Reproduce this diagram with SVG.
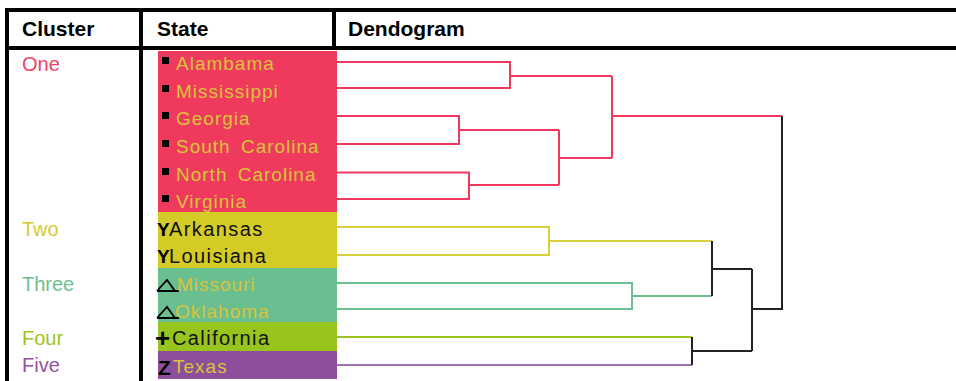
<svg xmlns="http://www.w3.org/2000/svg" width="956" height="381" viewBox="0 0 956 381">
<style>
text{font-family:"Liberation Sans",Arial,sans-serif}
.hd{font-size:21px;font-weight:bold;fill:#000}
.cl{font-size:20px}
.st{font-size:19px;letter-spacing:1px;word-spacing:4px}
.sy{fill:#d8c43a}
.sk{fill:#111;font-size:20px;letter-spacing:1.4px}
.mk{font-weight:bold;fill:#000}
.ln{fill:none;stroke-width:2;stroke-linejoin:miter;stroke-linecap:butt}
.r{stroke:#f0395e}.y{stroke:#d8cf3a}.g{stroke:#6cc08f}.l{stroke:#9bc423}.p{stroke:#a070b0}.k{stroke:#222}
.tri{fill:none;stroke:#000;stroke-width:1.8}
</style>
<rect width="956" height="381" fill="#fff"/>
<g id="table">
<rect x="5" y="8" width="951" height="4" fill="#000"/>
<rect x="5" y="46" width="951" height="4" fill="#000"/>
<rect x="5" y="8" width="4" height="373" fill="#000"/>
<rect x="139" y="8" width="4" height="373" fill="#000"/>
<rect x="332" y="8" width="4" height="42" fill="#000"/>
<text class="hd" x="22" y="36">Cluster</text>
<text class="hd" x="157" y="36">State</text>
<text class="hd" x="348" y="36">Dendogram</text>
</g>
<g id="clusters">
<text class="cl" x="22" y="71" fill="#ef4065">One</text>
<text class="cl" x="22" y="236" fill="#d6cb30">Two</text>
<text class="cl" x="22" y="291" fill="#6cc08f">Three</text>
<text class="cl" x="22" y="345" fill="#9bc423">Four</text>
<text class="cl" x="22" y="372" fill="#9450a3">Five</text>
</g>
<g id="cluster-one">
<rect x="158" y="51" width="179" height="161" fill="#ef3a5d"/>
<rect x="162" y="57" width="7" height="7" fill="#000"/>
<rect x="162" y="85" width="7" height="7" fill="#000"/>
<rect x="162" y="112" width="7" height="7" fill="#000"/>
<rect x="162" y="140" width="7" height="7" fill="#000"/>
<rect x="162" y="168" width="7" height="7" fill="#000"/>
<rect x="162" y="195" width="7" height="7" fill="#000"/>
<text class="st sy" x="176" y="70">Alambama</text>
<text class="st sy" x="176" y="98">Mississippi</text>
<text class="st sy" x="176" y="125">Georgia</text>
<text class="st sy" x="176" y="153">South Carolina</text>
<text class="st sy" x="176" y="181">North Carolina</text>
<text class="st sy" x="176" y="208">Virginia</text>
</g>
<g id="cluster-two">
<rect x="158" y="212" width="179" height="56" fill="#d4cb26"/>
<text class="mk" x="157" y="236" font-size="19">Y</text>
<text class="mk" x="157" y="263" font-size="19">Y</text>
<text class="st sk" x="169" y="236">Arkansas</text>
<text class="st sk" x="169" y="263">Louisiana</text>
</g>
<g id="cluster-three">
<rect x="158" y="268" width="179" height="54" fill="#6abf90"/>
<path class="tri" d="M157 291L167 280L175 291H179M157 291H175"/>
<path class="tri" d="M157 318L167 307L175 318H179M157 318H175"/>
<text class="st sy" x="177" y="291">Missouri</text>
<text class="st sy" x="175" y="318">Oklahoma</text>
</g>
<g id="cluster-four">
<rect x="158" y="322" width="179" height="29" fill="#98c41e"/>
<text class="mk" x="155" y="347" font-size="26">+</text>
<text class="st sk" x="172" y="345">California</text>
</g>
<g id="cluster-five">
<rect x="158" y="351" width="179" height="28" fill="#8d4f9c"/>
<text class="mk" x="158" y="375" font-size="21">Z</text>
<text class="st sy" x="173" y="373">Texas</text>
</g>
<g id="connectors">
<path class="ln r" d="M337 62H510V88H337M510 76H612"/>
<path class="ln r" d="M337 116H459V144H337M459 130H559"/>
<path class="ln r" d="M337 172.5H469V199H337M469 185H559"/>
<path class="ln r" d="M559 130V185M559 158H612M612 76V158M612 116H782"/>
<path class="ln y" d="M337 227H549V255H337M549 241H712"/>
<path class="ln g" d="M337 283H632V309H337M632 296H712"/>
<path class="ln l" d="M337 337H692"/>
<path class="ln p" d="M337 365H692"/>
<path class="ln k" d="M712 241V296M712 269H752M692 337V365M692 351H752M752 269V351M752 309H782M782 116V310"/>
</g>
</svg>
